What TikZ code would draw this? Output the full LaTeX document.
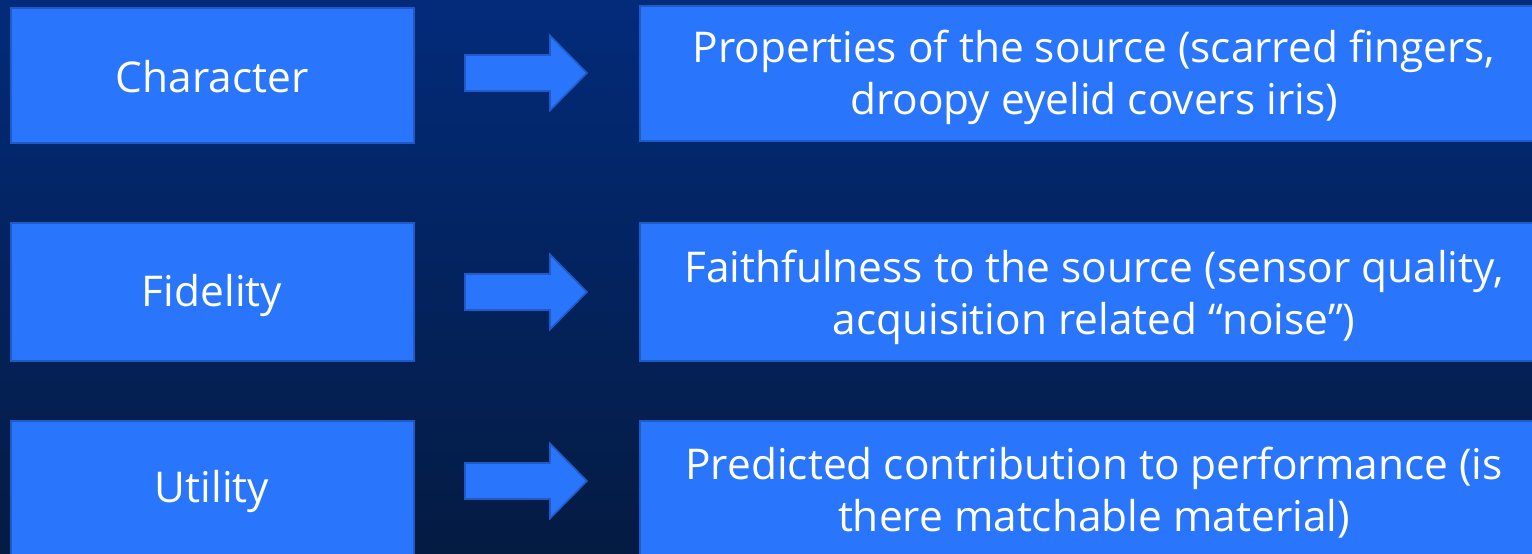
\documentclass[tikz,border=0pt]{standalone}
\usepackage{fontspec}
\setmainfont{Open Sans}
\definecolor{bgtop}{RGB}{3,43,122}
\definecolor{bgbot}{RGB}{4,27,66}
\definecolor{boxfill}{RGB}{41,117,252}
\definecolor{boxline}{RGB}{30,91,200}
\begin{document}
\begin{tikzpicture}[x=1pt,y=-1pt,
  panel/.style={draw=boxline,line width=2pt,fill=boxfill,inner sep=0pt},
  label/.style={text=white,font=\fontsize{42.4}{52}\selectfont,align=center,inner sep=0pt},
  blockarrow/.style={draw=boxline,line width=1.6pt,fill=boxfill,line join=miter}]
% canvas and background
\useasboundingbox (0,0) rectangle (1532,554);
\clip (0,0) rectangle (1532,554);
\shade[top color=bgtop,bottom color=bgbot] (0,0) rectangle (1532,554);

% left panels
\node[panel,minimum width=403pt,minimum height=135pt] (c) at (212.5,75) {};
\node[panel,minimum width=403pt,minimum height=138pt] (f) at (212.5,292) {};
\node[panel,minimum width=403pt,minimum height=136pt] (u) at (212.5,489) {};
\node[label] (ct) at (212,77) {Character};
\node[label] (ft) at (212,295) {Fidelity};
\node[label] (ut) at (212,491) {Utility};

% right panels (running past the right edge)
\node[panel,minimum width=910pt,minimum height=135pt] (cd) at (1095,73) {};
\node[panel,minimum width=910pt,minimum height=138pt] (fd) at (1095,292) {};
\node[panel,minimum width=910pt,minimum height=136pt] (ud) at (1095,489) {};
\node[label] (cdt) at (1094,77.5) {Properties of the source (scarred fingers,\\droopy eyelid covers iris)};
\node[label] (fdt) at (1094,297) {Faithfulness to the source (sensor quality,\\acquisition related “noise”)};
\node[label] (udt) at (1094,492.5) {Predicted contribution to performance (is\\there matchable material)};

% block arrows between the columns
\foreach \yc/\n in {73/a1,292/a2,481/a3}{
  \coordinate (\n) at (465,\yc);
  \draw[blockarrow] (\n) ++(0,-18) -- ++(85,0) -- ++(0,-19.5) -- ++(37,37.5)
    -- ++(-37,37.5) -- ++(0,-19.5) -- ++(-85,0) -- cycle;
}
\end{tikzpicture}
\end{document}
